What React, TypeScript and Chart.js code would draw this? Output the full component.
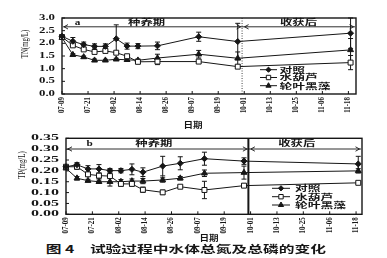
import { useEffect, useRef } from "react";
import { Chart, registerables } from "chart.js";
import { drawPoint } from "chart.js/helpers";

Chart.register(...registerables);

// Sampling days, counted from 07-09
const tnDays = [0, 5, 10, 15, 20, 25, 30, 35, 44, 63, 81, 133];
const tnControl = [2.28, 2.08, 1.95, 1.88, 1.88, 2.18, 1.89, 1.89, 1.9, 2.26, 2.07, 2.4];
const tnControlErr = [0.05, 0.15, 0.1, 0.1, 0.1, 0.55, 0.12, 0.1, 0.15, 0.18, 0.72, 0.6];
const tnHyacinth = [2.25, 1.92, 1.76, 1.66, 1.7, 1.63, 1.49, 1.27, 1.28, 1.28, 1.08, 1.24];
const tnHyacinthErr = [0.04, 0.05, 0.05, 0.06, 0.05, 0.05, 0.05, 0.06, 0.12, 0.05, 0.05, 0.28];
const tnHydrilla = [2.22, 1.55, 1.46, 1.33, 1.33, 1.37, 1.35, 1.33, 1.42, 1.57, 1.41, 1.74];
const tnHydrillaErr = [0.04, 0.04, 0.04, 0.05, 0.04, 0.04, 0.05, 0.05, 0.15, 0.15, 0.25, 0.45];

const tpDays = [0, 5, 10, 15, 20, 25, 30, 35, 44, 52, 63, 81, 133];
const tpControl = [0.219, 0.228, 0.209, 0.209, 0.201, 0.201, 0.207, 0.194, 0.222, 0.235, 0.256, 0.245, 0.232];
const tpControlErr = [0.005, 0.01, 0.015, 0.02, 0.01, 0.01, 0.025, 0.02, 0.045, 0.03, 0.03, 0.015, 0.035];
const tpHyacinth = [0.219, 0.219, 0.184, 0.178, 0.176, 0.14, 0.14, 0.113, 0.101, 0.127, 0.112, 0.132, 0.145];
const tpHyacinthErr = [0.005, 0.012, 0.01, 0.012, 0.03, 0.01, 0.01, 0.012, 0.01, 0.005, 0.04, 0.008, 0.004];
const tpHydrilla = [0.212, 0.166, 0.155, 0.15, 0.15, 0.15, 0.153, 0.153, 0.158, 0.166, 0.189, 0.192, 0.2];
const tpHydrillaErr = [0.005, 0.008, 0.006, 0.008, 0.02, 0.01, 0.01, 0.012, 0.01, 0.008, 0.015, 0.03, 0.01];

const dateLabels = ["07-09", "07-21", "08-02", "08-14", "08-26", "09-07", "09-19", "10-01", "10-13", "10-25", "11-06", "11-18"];
const dateStep = 12;
const seriesNames = ["对照", "水葫芦", "轮叶黑藻"];
const tnTicks = [0, 0.5, 1, 1.5, 2, 2.5, 3];
const tpTicks = [0, 0.05, 0.1, 0.15, 0.2, 0.25, 0.3, 0.35];
const harvestDay = 83;
const periodNames = ["种养期", "收获后"];

const INK = "#161616";
const SERIF = '"Liberation Serif", "DejaVu Serif", serif';
const CJK = '"Noto Sans CJK SC", sans-serif';

type Marker = { style: "rectRot" | "rect" | "triangle"; fill: string; radius: number };
const markers: Marker[] = [
  { style: "rectRot", fill: INK, radius: 3 },
  { style: "rect", fill: "#ffffff", radius: 3.5 },
  { style: "triangle", fill: INK, radius: 3.4 },
];

type Panel = {
  days: number[];
  values: number[][];
  errors: number[][];
  xMax: number;
  yMax: number;
  yTicks: number[];
  yDigits: number;
  yTitle: string;
  letter: string;
  top: number;
  height: number;
  left: number;
  padRight: number;
  padTop: number;
  axisH: number;
  yLabelRight: number;
  yLabelSx: number;
  yTitleX: number;
  yTitleY: number;
  solidDivider: boolean;
  letterX: number;
  textY: number;
  arrowY: number;
  periodCenters: number[];
  legendLine: number[];
  legendText: number;
  legendRows: number[];
};

const panels: Panel[] = [
  {
    days: tnDays,
    values: [tnControl, tnHyacinth, tnHydrilla],
    errors: [tnControlErr, tnHyacinthErr, tnHydrillaErr],
    xMax: 135.5,
    yMax: 3,
    yTicks: tnTicks,
    yDigits: 1,
    yTitle: "TN(mg/L)",
    letter: "a",
    top: 0,
    height: 120,
    left: 62,
    padRight: 31,
    padTop: 18,
    axisH: 26,
    yLabelRight: 55,
    yLabelSx: 1.6,
    yTitleX: 25,
    yTitleY: 44,
    solidDivider: false,
    letterX: 77.5,
    textY: 22.5,
    arrowY: 26.8,
    periodCenters: [39, 109],
    legendLine: [260, 277],
    legendText: 279.5,
    legendRows: [69.7, 77.5, 85.7],
  },
  {
    days: tpDays,
    values: [tpControl, tpHyacinth, tpHydrilla],
    errors: [tpControlErr, tpHyacinthErr, tpHydrillaErr],
    xMax: 134.7,
    yMax: 0.35,
    yTicks: tpTicks,
    yDigits: 2,
    yTitle: "TP(mg/L)",
    letter: "b",
    top: 120,
    height: 120,
    left: 66,
    padRight: 25,
    padTop: 18.3,
    axisH: 25.7,
    yLabelRight: 59,
    yLabelSx: 2.0,
    yTitleX: 22.5,
    yTitleY: 45,
    solidDivider: true,
    letterX: 89.5,
    textY: 23.5,
    arrowY: 29,
    periodCenters: [40, 105],
    legendLine: [272, 290],
    legendText: 295,
    legendRows: [68.3, 76.7, 85],
  },
];

function stretchText(
  ctx: CanvasRenderingContext2D,
  text: string,
  x: number,
  y: number,
  font: string,
  sx: number,
  align: CanvasTextAlign,
  rotation = 0
) {
  ctx.save();
  ctx.font = font;
  ctx.fillStyle = INK;
  ctx.textAlign = align;
  ctx.textBaseline = "middle";
  ctx.translate(x, y);
  if (rotation) ctx.rotate(rotation);
  ctx.scale(sx, 1);
  ctx.fillText(text, 0, 0);
  ctx.restore();
}

function arrowHead(ctx: CanvasRenderingContext2D, x: number, y: number, dir: number) {
  ctx.beginPath();
  ctx.moveTo(x + dir * -4, y - 2.2);
  ctx.lineTo(x, y);
  ctx.lineTo(x + dir * -4, y + 2.2);
  ctx.stroke();
}

function makeDecor(p: Panel) {
  return {
    id: "decor",
    beforeDatasetsDraw(chart: any) {
      const ctx: CanvasRenderingContext2D = chart.ctx;
      const ys = chart.scales.y;
      ctx.save();
      ctx.strokeStyle = INK;
      ctx.lineWidth = 1;
      p.values.forEach((vals, i) => {
        const meta = chart.getDatasetMeta(i);
        meta.data.forEach((pt: any, j: number) => {
          const e = p.errors[i][j];
          if (!e) return;
          const x = pt.x;
          const y1 = ys.getPixelForValue(vals[j] + e);
          const y2 = ys.getPixelForValue(vals[j] - e);
          ctx.beginPath();
          ctx.moveTo(x, y1);
          ctx.lineTo(x, y2);
          ctx.moveTo(x - 2.5, y1);
          ctx.lineTo(x + 2.5, y1);
          ctx.moveTo(x - 2.5, y2);
          ctx.lineTo(x + 2.5, y2);
          ctx.stroke();
        });
      });
      ctx.restore();
    },
    afterDraw(chart: any) {
      const ctx: CanvasRenderingContext2D = chart.ctx;
      const xs = chart.scales.x;
      const ys = chart.scales.y;
      const ca = chart.chartArea;
      ctx.save();
      ctx.strokeStyle = INK;
      ctx.fillStyle = INK;

      // plot frame
      ctx.lineWidth = 1.4;
      ctx.strokeRect(ca.left, ca.top, ca.right - ca.left, ca.bottom - ca.top);

      // value axis: inward ticks and labels
      ctx.lineWidth = 1;
      p.yTicks.forEach((v) => {
        const py = ys.getPixelForValue(v);
        ctx.beginPath();
        ctx.moveTo(ca.left, py);
        ctx.lineTo(ca.left + 3, py);
        ctx.stroke();
        stretchText(ctx, v.toFixed(p.yDigits), p.yLabelRight, py, `bold 8px ${SERIF}`, p.yLabelSx, "right");
      });

      // date axis: inward ticks and rotated labels
      dateLabels.forEach((lab, i) => {
        const px = xs.getPixelForValue(i * dateStep);
        ctx.beginPath();
        ctx.moveTo(px, ca.bottom);
        ctx.lineTo(px, ca.bottom - 3);
        ctx.stroke();
        stretchText(ctx, lab, px, ca.bottom + 3, `bold 7.5px ${SERIF}`, 0.92, "right", -Math.PI / 2);
      });

      // axis title
      stretchText(ctx, p.yTitle, p.yTitleX, p.yTitleY, `9.5px ${SERIF}`, 0.72, "center", -Math.PI / 2);

      // boundary between the growing period and after harvest
      const dx = xs.getPixelForValue(harvestDay);
      ctx.beginPath();
      if (p.solidDivider) {
        ctx.lineWidth = 2;
      } else {
        ctx.lineWidth = 0.8;
        ctx.setLineDash([1, 1.5]);
      }
      ctx.moveTo(dx, ca.top);
      ctx.lineTo(dx, ca.bottom);
      ctx.stroke();
      ctx.setLineDash([]);

      // period arrows
      ctx.lineWidth = 0.9;
      const ay = ca.top + (p.arrowY - p.padTop);
      ctx.beginPath();
      ctx.moveTo(ca.left + 1, ay);
      ctx.lineTo(ca.right - 1, ay);
      ctx.stroke();
      arrowHead(ctx, ca.left + 2, ay, -1);
      arrowHead(ctx, dx - 1.5, ay, 1);
      arrowHead(ctx, dx + 2.5, ay, -1);
      arrowHead(ctx, ca.right - 2.5, ay, 1);

      // period names and panel letter
      const ty = ca.top + (p.textY - p.padTop);
      stretchText(ctx, p.letter, p.letterX, ty, `bold 8px ${SERIF}`, 1.4, "center");
      periodNames.forEach((name, i) => {
        stretchText(ctx, name, xs.getPixelForValue(p.periodCenters[i]), ty, `bold 7.5px ${CJK}`, 1.65, "center");
      });

      // legend
      seriesNames.forEach((name, i) => {
        const ry = p.legendRows[i];
        const [l0, l1] = p.legendLine;
        ctx.lineWidth = 1;
        ctx.beginPath();
        ctx.moveTo(l0, ry);
        ctx.lineTo(l1, ry);
        ctx.stroke();
        ctx.fillStyle = markers[i].fill;
        drawPoint(ctx, { pointStyle: markers[i].style, radius: markers[i].radius - 0.4, borderWidth: 1, rotation: 0 } as any, (l0 + l1) / 2, ry);
        ctx.fillStyle = INK;
        stretchText(ctx, name, p.legendText, ry, `bold 7.5px ${CJK}`, 1.7, "left");
      });
      ctx.restore();
    },
  };
}

function PanelChart({ p }: { p: Panel }) {
  const ref = useRef<HTMLCanvasElement | null>(null);
  useEffect(() => {
    if (!ref.current) return;
    const datasets = p.values.map((vals, i) => ({
      label: seriesNames[i],
      data: p.days.map((d, j) => ({ x: d, y: vals[j] })),
      borderColor: INK,
      borderWidth: 1,
      pointStyle: markers[i].style,
      pointRadius: markers[i].radius,
      pointBorderWidth: 1,
      pointBorderColor: INK,
      pointBackgroundColor: markers[i].fill,
      fill: false,
      tension: 0,
      clip: false as any,
    }));
    const chart = new Chart(ref.current, {
      type: "line",
      data: { datasets },
      options: {
        animation: false,
        responsive: false,
        devicePixelRatio: 1,
        layout: { padding: { top: p.padTop, right: p.padRight, left: 0, bottom: 0 } },
        plugins: { legend: { display: false }, tooltip: { enabled: false } },
        scales: {
          x: {
            type: "linear",
            min: 0,
            max: p.xMax,
            ticks: { display: false },
            grid: { display: false },
            border: { display: false },
            afterFit: (s: any) => {
              s.height = p.axisH;
            },
          },
          y: {
            type: "linear",
            min: 0,
            max: p.yMax,
            ticks: { display: false },
            grid: { display: false },
            border: { display: false },
            afterFit: (s: any) => {
              s.width = p.left;
            },
          },
        },
      } as any,
      plugins: [makeDecor(p)],
    });
    return () => chart.destroy();
  }, [p]);
  return (
    <canvas
      ref={ref}
      width={387}
      height={p.height}
      style={{ position: "absolute", left: 0, top: p.top, width: 387, height: p.height }}
    />
  );
}

const label = (text: string, x: number, y: number, size: number, sx: number): JSX.Element => (
  <span
    style={{
      position: "absolute",
      left: x,
      top: y,
      transform: `translate(-50%, -50%) scaleX(${sx})`,
      font: `bold ${size}px ${CJK}`,
      color: INK,
      whiteSpace: "nowrap",
      lineHeight: 1,
    }}
  >
    {text}
  </span>
);

export default function App() {
  return (
    <div
      style={{
        position: "absolute",
        left: 0,
        top: 0,
        width: 387,
        height: 258,
        background: "#ffffff",
        overflow: "hidden",
      }}
    >
      {panels.map((p, i) => (
        <PanelChart key={i} p={p} />
      ))}
      {label("日期", 193, 125, 8, 1.2)}
      {label("日期", 209, 237.5, 8, 1.2)}
      {label("图 4", 60, 248.5, 10.5, 1.5)}
      {label("试验过程中水体总氮及总磷的变化", 208, 248.5, 10.5, 1.5)}
    </div>
  );
}
